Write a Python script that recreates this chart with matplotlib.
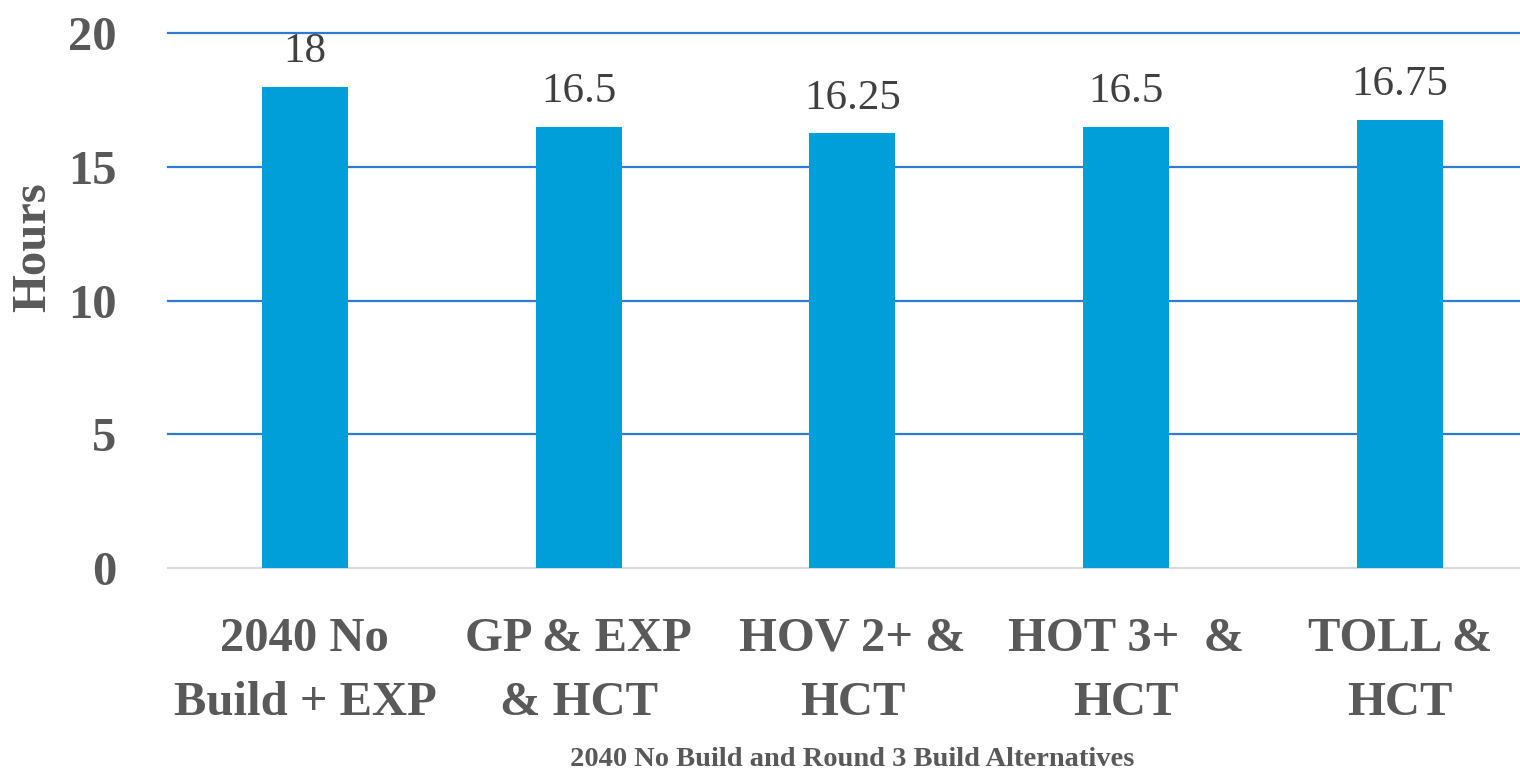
import matplotlib
matplotlib.use("Agg")
import matplotlib.pyplot as plt

categories = ["2040 No\nBuild + EXP", "GP & EXP\n& HCT", "HOV 2+ &\nHCT", "HOT 3+  &\nHCT", "TOLL &\nHCT"]
hours = [18, 16.5, 16.25, 16.5, 16.75]
value_labels = ["18", "16.5", "16.25", "16.5", "16.75"]
y_ticks = [0, 5, 10, 15, 20]

W, H = 1520, 770
fig = plt.figure(figsize=(W / 100, H / 100), dpi=100)
plt.rcParams["font.family"] = ["Liberation Serif", "DejaVu Serif"]

text_color = "#595959"
bar_color = "#009FD9"
grid_color = "#2E7BD6"

step = 273.75
left_px = 168
ax = fig.add_axes([left_px / W, (H - 568) / H, (W - left_px) / W, (568 - 33) / H])
x = list(range(len(categories)))
ax.bar(x, hours, width=0.314, color=bar_color, zorder=3)
ax.set_xlim(-0.5, -0.5 + (W - left_px) / step)
ax.set_ylim(0, 20)

ax.set_yticks(y_ticks)
ax.set_yticklabels([str(t) for t in y_ticks], fontsize=35, fontweight="bold", color=text_color)
ax.set_xticks(x)
ax.set_xticklabels(categories, fontsize=35, fontweight="bold", color=text_color, linespacing=1.6)
ax.tick_params(axis="both", length=0)
ax.tick_params(axis="y", pad=37)
ax.tick_params(axis="x", pad=35)

for t in y_ticks[1:]:
    ax.axhline(t, color=grid_color, linewidth=1.6, zorder=1, clip_on=False)
for s in ["top", "right", "left"]:
    ax.spines[s].set_visible(False)
ax.spines["bottom"].set_color("#D9D9D9")
ax.spines["bottom"].set_linewidth(1.6)

for xi, v, lab in zip(x, hours, value_labels):
    ax.annotate(lab, (xi, v), xytext=(0, 17.6), textcoords="offset points",
                ha="center", va="baseline", fontsize=31, color="#404040", zorder=4)

fig.text(33 / W, 1 - 247 / H, "Hours", rotation=90, ha="center", va="center",
         fontsize=35, fontweight="bold", color=text_color)
fig.text(852 / W, 1 - 759 / H, "2040 No Build and Round 3 Build Alternatives",
         ha="center", va="center", fontsize=20.5, fontweight="bold", color=text_color)

fig.savefig("out.png", dpi=100)
